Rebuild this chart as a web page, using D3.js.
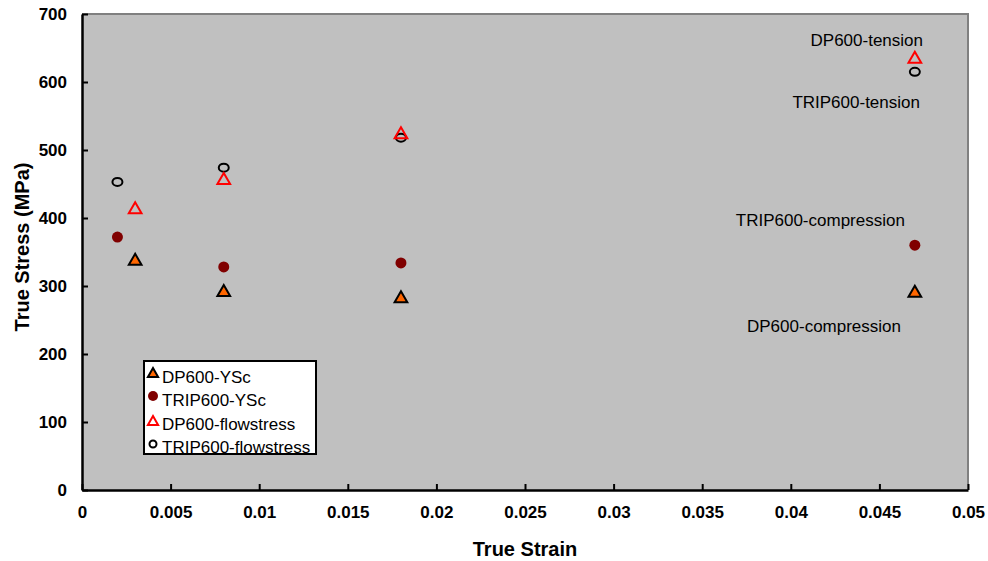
<!DOCTYPE html>
<html><head><meta charset="utf-8">
<script src="https://cdn.jsdelivr.net/npm/d3@7"></script>
<style>body{margin:0;background:#fff;} text{font-family:"Liberation Sans",Arial,sans-serif;}</style>
</head><body><svg id="c" width="988" height="561"></svg>
<script>
const xTicks = [0,0.005,0.01,0.015,0.02,0.025,0.03,0.035,0.04,0.045,0.05];
const xTickLabels = ["0","0.005","0.01","0.015","0.02","0.025","0.03","0.035","0.04","0.045","0.05"];
const yTicks = [0,100,200,300,400,500,600,700];

const dpYScX = [0.003,0.008,0.018,0.047];
const dpYScY = [338,292,283,291];
const tripYScX = [0.002,0.008,0.018,0.047];
const tripYScY = [372,328,334,360];
const dpFlowX = [0.003,0.008,0.018,0.047];
const dpFlowY = [414,457,524,635];
const tripFlowX = [0.002,0.008,0.018,0.047];
const tripFlowY = [453,474,518,615];

const seriesNames = ["DP600-YSc","TRIP600-YSc","DP600-flowstress","TRIP600-flowstress"];
const annotations = [
  {text:"DP600-tension", x:0.04746, y:653},
  {text:"TRIP600-tension", x:0.04729, y:562},
  {text:"TRIP600-compression", x:0.04644, y:388},
  {text:"DP600-compression", x:0.04622, y:232}
];

const svg = d3.select("#c");
const L=82,R=968,T=14,B=490;
const x = d3.scaleLinear().domain([0,0.05]).range([L,R]);
const y = d3.scaleLinear().domain([0,700]).range([B,T]);

svg.append("rect").attr("x",L).attr("y",T).attr("width",R-L).attr("height",B-T).attr("fill","#c0c0c0");
svg.append("line").attr("x1",L).attr("x2",R+1).attr("y1",T).attr("y2",T).attr("stroke","#808080").attr("stroke-width",2);
svg.append("line").attr("x1",R).attr("x2",R).attr("y1",T).attr("y2",B).attr("stroke","#808080").attr("stroke-width",2);

const xAxis = svg.append("g").attr("transform",`translate(0,${B})`)
  .call(d3.axisBottom(x).tickValues(xTicks).tickFormat((d,i)=>xTickLabels[i]).tickSizeInner(-6).tickSizeOuter(0).tickPadding(16));
const yAxis = svg.append("g").attr("transform",`translate(${L},0)`)
  .call(d3.axisLeft(y).tickValues(yTicks).tickFormat(d3.format("d")).tickSizeInner(-6).tickSizeOuter(0).tickPadding(15));
[xAxis,yAxis].forEach(g=>{
  g.attr("font-size",null).attr("font-family",null);
  g.select(".domain").attr("stroke","#000").attr("stroke-width",2.5);
  g.selectAll(".tick line").attr("stroke","#000").attr("stroke-width",2);
  g.selectAll(".tick text").attr("font-size",17).attr("font-weight","bold").attr("fill","#000")
    .style("font-family","'Liberation Sans',Arial,sans-serif");
});

svg.append("text").attr("x",(L+R)/2).attr("y",556).attr("text-anchor","middle")
  .attr("font-size",20).attr("font-weight","bold").text("True Strain");
svg.append("text").attr("transform",`translate(29,${247}) rotate(-90)`).attr("text-anchor","middle")
  .attr("font-size",20).attr("font-weight","bold").text("True Stress (MPa)");

const tri = d3.symbol().type(d3.symbolTriangle).size(70);
function triPath(cx,cy){ return `translate(${cx},${cy+1})`; }

const g = svg.append("g");
tripFlowX.forEach((v,i)=>{
  g.append("ellipse").attr("cx",x(v)).attr("cy",y(tripFlowY[i])).attr("rx",5).attr("ry",4)
   .attr("fill","none").attr("stroke","#000").attr("stroke-width",2);
});
dpFlowX.forEach((v,i)=>{
  g.append("path").attr("d",tri).attr("transform",triPath(x(v),y(dpFlowY[i])))
   .attr("fill","none").attr("stroke","#ff0000").attr("stroke-width",2);
});
tripYScX.forEach((v,i)=>{
  g.append("ellipse").attr("cx",x(v)).attr("cy",y(tripYScY[i])).attr("rx",5.5).attr("ry",5.5)
   .attr("fill","#800000");
});
dpYScX.forEach((v,i)=>{
  g.append("path").attr("d",tri).attr("transform",triPath(x(v),y(dpYScY[i])))
   .attr("fill","#ff6600").attr("stroke","#000").attr("stroke-width",2);
});

annotations.forEach(a=>{
  svg.append("text").attr("x",x(a.x)).attr("y",y(a.y)).attr("text-anchor","end")
   .attr("font-size",17).attr("fill","#000").text(a.text);
});

// legend
const lg = svg.append("g");
lg.append("rect").attr("x",144).attr("y",361).attr("width",172).attr("height",93)
  .attr("fill","#fff").attr("stroke","#000").attr("stroke-width",2);
svg.append("clipPath").attr("id","lc").append("rect").attr("x",144).attr("y",361).attr("width",172).attr("height",92);
const li = lg.append("g").attr("clip-path","url(#lc)");
const rowY = [383,406,430,453];
const mkY = [373,396,421,444];
seriesNames.forEach((n,i)=>{
  const cy = mkY[i];
  const mx = 153;
  if(i===0) li.append("path").attr("d",d3.symbol().type(d3.symbolTriangle).size(45)).attr("transform",`translate(${mx},${cy+1})`)
     .attr("fill","#ff6600").attr("stroke","#000").attr("stroke-width",2);
  if(i===1) li.append("circle").attr("cx",mx).attr("cy",cy).attr("r",5).attr("fill","#800000");
  if(i===2) li.append("path").attr("d",d3.symbol().type(d3.symbolTriangle).size(45)).attr("transform",`translate(${mx},${cy+1})`)
     .attr("fill","none").attr("stroke","#ff0000").attr("stroke-width",2);
  if(i===3) li.append("circle").attr("cx",mx).attr("cy",cy).attr("r",3.5).attr("fill","none").attr("stroke","#000").attr("stroke-width",2);
  li.append("text").attr("x",162).attr("y",rowY[i]).attr("font-size",17).attr("fill","#000").text(n);
});
</script></body></html>
